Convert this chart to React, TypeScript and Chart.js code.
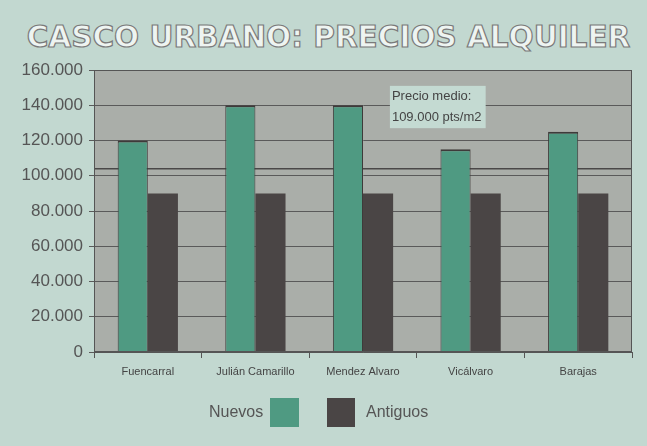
import React, { useEffect, useRef } from "react";
import { Chart, registerables } from "chart.js";

Chart.register(...registerables);

const TITLE = "CASCO URBANO: PRECIOS ALQUILER";
const CATEGORIES = ["Fuencarral", "Julián Camarillo", "Mendez Alvaro", "Vicálvaro", "Barajas"];
const NUEVOS = [120000, 140000, 140000, 115000, 125000];
const ANTIGUOS = [90000, 90000, 90000, 90000, 90000];
const AVERAGE_LINE = 104000;
const NOTE_LINES = ["Precio medio:", "109.000 pts/m2"];
const SERIES_NAMES = ["Nuevos", "Antiguos"];
const Y_MAX = 160000;
const Y_STEP = 20000;

const GREEN = "#4f9a82";
const DARK = "#4a4545";
const PAGE_BG = "#c2d8d0";
const PLOT_BG = "#aaaea9";

const fmt = (v: number) => {
  if (v === 0) return "0";
  const s = String(Math.round(v));
  return s.replace(/\B(?=(\d{3})+(?!\d))/g, ".");
};

const plotPlugin = {
  id: "plotDecor",
  beforeDatasetsDraw(chart: any) {
    const { ctx, chartArea, scales } = chart;
    const y = scales.y.getPixelForValue(AVERAGE_LINE);
    ctx.save();
    ctx.strokeStyle = "#4a4848";
    ctx.lineWidth = 1.5;
    ctx.beginPath();
    ctx.moveTo(chartArea.left, y);
    ctx.lineTo(chartArea.right, y);
    ctx.stroke();
    ctx.restore();
  },
  beforeDraw(chart: any) {
    const { ctx, chartArea } = chart;
    ctx.save();
    ctx.fillStyle = PLOT_BG;
    ctx.fillRect(chartArea.left, chartArea.top, chartArea.right - chartArea.left, chartArea.bottom - chartArea.top);
    ctx.restore();
  },
  afterDraw(chart: any) {
    const { ctx, chartArea, scales } = chart;
    ctx.save();
    ctx.strokeStyle = "#555";
    ctx.lineWidth = 1;
    ctx.strokeRect(chartArea.left + 0.5, chartArea.top + 0.5, chartArea.right - chartArea.left - 1, chartArea.bottom - chartArea.top - 1);
    const x0 = scales.x.getPixelForValue(2.25);
    const x1 = scales.x.getPixelForValue(3.14);
    const y0 = scales.y.getPixelForValue(151000);
    const y1 = scales.y.getPixelForValue(127000);
    ctx.fillStyle = "#c4dad2";
    ctx.fillRect(x0, y0, x1 - x0, y1 - y0);
    ctx.fillStyle = "#444";
    ctx.font = "13px 'Liberation Sans', Arial, sans-serif";
    ctx.textBaseline = "middle";
    ctx.textAlign = "left";
    ctx.fillText(NOTE_LINES[0], x0 + 2, y0 + (y1 - y0) * 0.26);
    ctx.fillText(NOTE_LINES[1], x0 + 2, y0 + (y1 - y0) * 0.74);
    ctx.restore();
  },
};

export default function App() {
  const ref = useRef<HTMLCanvasElement | null>(null);
  useEffect(() => {
    if (!ref.current) return;
    const chart = new Chart(ref.current, {
      type: "bar",
      data: {
        labels: CATEGORIES,
        datasets: [
          {
            label: SERIES_NAMES[0],
            data: NUEVOS,
            backgroundColor: GREEN,
            borderColor: "#3e3a3a",
            borderWidth: { top: 2, left: 1, right: 1, bottom: 0 } as any,
            borderSkipped: "bottom",
            categoryPercentage: 0.56,
            barPercentage: 1.0,
          },
          {
            label: SERIES_NAMES[1],
            data: ANTIGUOS,
            backgroundColor: DARK,
            borderColor: "#3e3a3a",
            borderWidth: 0,
            categoryPercentage: 0.56,
            barPercentage: 1.0,
          },
        ],
      },
      options: {
        animation: false,
        responsive: false,
        maintainAspectRatio: false,
        layout: { padding: { left: 0, right: 15, top: 70, bottom: 0 } },
        plugins: { legend: { display: false }, tooltip: { enabled: false }, title: { display: false } },
        scales: {
          x: {
            grid: { display: true, drawOnChartArea: false, color: "#555", tickLength: 6, offset: true },
            border: { color: "#555" },
            ticks: { color: "#444", font: { size: 11, family: "'Liberation Sans', Arial, sans-serif" }, padding: 7, maxRotation: 0, autoSkip: false },
            afterFit: (s: any) => { s.height = 94; },
          } as any,
          y: {
            min: 0,
            max: Y_MAX,
            ticks: { stepSize: Y_STEP, color: "#555", padding: 6, font: { size: 17, family: "'Liberation Sans', Arial, sans-serif" }, callback: (v: any) => fmt(Number(v)) },
            grid: { color: "#5a5a5a", lineWidth: 1, tickLength: 5 },
            border: { color: "#555" },
            afterFit: (s: any) => { s.width = 94; },
          } as any,
        },
      },
      plugins: [plotPlugin],
    });
    return () => chart.destroy();
  }, []);

  const legendText: React.CSSProperties = {
    fontFamily: "'Liberation Sans', Arial, sans-serif",
    fontSize: 16,
    color: "#555",
    position: "absolute",
    top: 403,
  };

  return (
    <div style={{ position: "fixed", left: 0, top: 0, width: 647, height: 446, background: PAGE_BG, overflow: "hidden" }}>
      <div
        style={{
          position: "absolute",
          left: 0,
          width: 647,
          top: 20,
          textAlign: "center",
          paddingLeft: 10,
          boxSizing: "border-box",
          fontFamily: "'DejaVu Sans', sans-serif",
          fontWeight: "bold",
          fontSize: 29.5,
          letterSpacing: 0,
          color: "#eef4f1",
          WebkitTextStroke: "1.2px #7a7a7a",
          whiteSpace: "nowrap",
        }}
      >
        {TITLE}
      </div>
      <canvas ref={ref} width={647} height={446} style={{ position: "absolute", left: 0, top: 0 }} />
      <div style={{ ...legendText, left: 209 }}>{SERIES_NAMES[0]}</div>
      <div style={{ position: "absolute", left: 270, top: 398, width: 29, height: 29, background: GREEN }} />
      <div style={{ position: "absolute", left: 327, top: 398, width: 28, height: 29, background: DARK }} />
      <div style={{ ...legendText, left: 366 }}>{SERIES_NAMES[1]}</div>
    </div>
  );
}
